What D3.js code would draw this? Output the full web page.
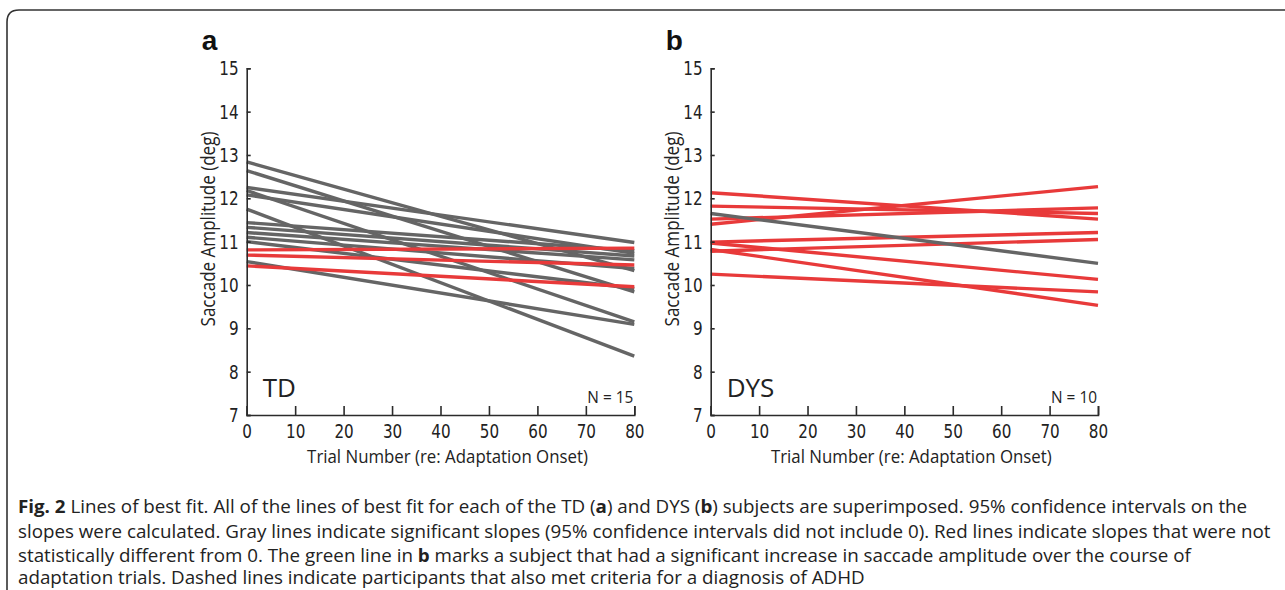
<!DOCTYPE html>
<html>
<head>
<meta charset="utf-8">
<script src="https://cdn.jsdelivr.net/npm/d3@7"></script>
<style>
  body { margin: 0; background: #fff; }
  svg { display: block; }
</style>
</head>
<body>
<svg width="1285" height="590"></svg>
<script>
// trial range of the fitted lines
const trials = [0, 80];
const xTicks = [0, 10, 20, 30, 40, 50, 60, 70, 80];
const yTicks = [7, 8, 9, 10, 11, 12, 13, 14, 15];

// TD group: amplitude at trial 0 and trial 80
const tdGrayStart = [12.84, 12.64, 12.25, 12.18, 12.08, 11.75, 11.44, 11.33, 11.21, 11.10, 11.00, 10.54];
const tdGrayEnd   = [10.33, 9.84, 10.98, 9.15, 10.73, 8.36, 10.79, 10.67, 10.58, 10.38, 9.92, 9.09];
const tdRedStart  = [10.81, 10.69, 10.44];
const tdRedEnd    = [10.85, 10.46, 9.96];

// DYS group
const dysRedStart  = [11.40, 12.13, 11.82, 11.52, 10.99, 10.78, 10.97, 10.82, 10.25];
const dysRedEnd    = [12.27, 11.52, 11.65, 11.78, 11.21, 11.05, 10.13, 9.53, 9.84];
const dysGrayStart = [11.65];
const dysGrayEnd   = [10.50];

const captionLines = [
  ["Fig. 2", " Lines of best fit. All of the lines of best fit for each of the TD (", "a", ") and DYS (", "b", ") subjects are superimposed. 95% confidence intervals on the"],
  ["", "slopes were calculated. Gray lines indicate significant slopes (95% confidence intervals did not include 0). Red lines indicate slopes that were not"],
  ["", "statistically different from 0. The green line in ", "b", " marks a subject that had a significant increase in saccade amplitude over the course of"],
  ["", "adaptation trials. Dashed lines indicate participants that also met criteria for a diagnosis of ADHD"]
];

const GRAY = "#656565";
const RED = "#e83a3a";
const AXIS = "#2b2b2b";
const numFont = "'DejaVu Sans', sans-serif";
const txtFont = "'Open Sans', 'Liberation Sans', sans-serif";
const NARROW = 0.76;

const svg = d3.select("svg");

// frame round the figure
svg.append("path")
  .attr("d", "M7,600 L7,22 Q7,10 19,10 L1295,10")
  .attr("fill", "none")
  .attr("stroke", "#333")
  .attr("stroke-width", 1.6);

function toLines(starts, ends) {
  return starts.map((s, i) => [[trials[0], s], [trials[1], ends[i]]]);
}

// horizontal squeeze factor so that a text gets width w
function squeeze(sel, w) {
  return w / sel.node().getComputedTextLength();
}

function panel(opts) {
  const x = d3.scaleLinear().domain(trials).range([opts.x0, opts.x1]);
  const y = d3.scaleLinear().domain([7, 15]).range([opts.yb, opts.yt]);
  const g = svg.append("g");

  const line = d3.line().x(d => x(d[0])).y(d => y(d[1]));

  opts.layers.forEach(layer => {
    g.selectAll(null)
      .data(toLines(layer.starts, layer.ends))
      .join("path")
      .attr("d", line)
      .attr("fill", "none")
      .attr("stroke", layer.color)
      .attr("stroke-width", 3.4);
  });

  // axes, ticks pointing inwards
  const xAxis = g.append("g")
    .attr("transform", `translate(0,${opts.yb})`)
    .call(d3.axisBottom(x).tickValues(xTicks).tickSize(-9).tickPadding(16.5));
  const yAxis = g.append("g")
    .attr("transform", `translate(${opts.x0},0)`)
    .call(d3.axisLeft(y).tickValues(yTicks).tickSize(-4).tickPadding(6));
  [xAxis, yAxis].forEach(a => {
    a.select(".domain").attr("stroke", AXIS).attr("stroke-width", 1.6);
    a.selectAll(".tick line").attr("stroke", AXIS).attr("stroke-width", 1.6);
    a.selectAll(".tick text").attr("fill", "#222")
      .style("font-family", numFont).style("font-size", "20px")
      .attr("transform", `scale(${NARROW},1)`);
  });
  xAxis.selectAll(".tick text").attr("dy", "0.32em");
  yAxis.selectAll(".tick text").attr("x", -8 / NARROW);

  const xt = g.append("text")
    .attr("text-anchor", "middle")
    .style("font-family", txtFont).style("font-size", "19px").attr("fill", "#222")
    .text("Trial Number (re: Adaptation Onset)");
  xt.attr("transform", `translate(${(opts.x0 + opts.x1) / 2 + 7},463) scale(${squeeze(xt, 281)},1)`);

  const yt = g.append("text")
    .attr("text-anchor", "middle")
    .style("font-family", txtFont).style("font-size", "20px").attr("fill", "#222")
    .text("Saccade Amplitude (deg)");
  yt.attr("transform", `translate(${opts.x0 - 32},229) rotate(-90) scale(${squeeze(yt, 195)},1)`);

  g.append("text")
    .attr("x", opts.x0 + 16).attr("y", 397)
    .style("font-family", txtFont).style("font-size", "26px").attr("fill", "#222")
    .text(opts.group);

  const nt = g.append("text")
    .attr("text-anchor", "end")
    .style("font-family", txtFont).style("font-size", "16px").attr("fill", "#222")
    .text(opts.n);
  nt.attr("transform", `translate(${opts.x1 - 1},403) scale(${squeeze(nt, 46)},1)`);

  g.append("text")
    .attr("x", opts.x0 - 45).attr("y", 50)
    .style("font-family", "'Liberation Sans', Arial, sans-serif")
    .style("font-size", "28px").style("font-weight", "bold").attr("fill", "#111")
    .text(opts.letter);
}

panel({
  x0: 246.7, x1: 634.3, yt: 68.3, yb: 415, group: "TD", n: "N = 15", letter: "a",
  layers: [
    { starts: tdGrayStart, ends: tdGrayEnd, color: GRAY },
    { starts: tdRedStart, ends: tdRedEnd, color: RED }
  ]
});

panel({
  x0: 710.7, x1: 1098, yt: 68.3, yb: 415, group: "DYS", n: "N = 10", letter: "b",
  layers: [
    { starts: dysRedStart, ends: dysRedEnd, color: RED },
    { starts: dysGrayStart, ends: dysGrayEnd, color: GRAY }
  ]
});

// caption: one squeeze for all lines, taken from the two full lines
const capY = [513, 538, 562, 584];
const capTargets = [1250, 1254];
const capTexts = captionLines.map((parts, i) => {
  const t = svg.append("text")
    .style("font-family", txtFont)
    .style("font-size", "18px").attr("fill", "#222");
  parts.forEach((p, j) => {
    if (!p) return;
    t.append("tspan")
      .style("font-weight", (j === 0 || p === "a" || p === "b") ? "bold" : "normal")
      .text(p);
  });
  return t;
});
const capK = d3.min(capTargets, (w, i) => squeeze(capTexts[i], w));
capTexts.forEach((t, i) => t.attr("transform", `translate(18,${capY[i]}) scale(${capK},1)`));
</script>
</body>
</html>
